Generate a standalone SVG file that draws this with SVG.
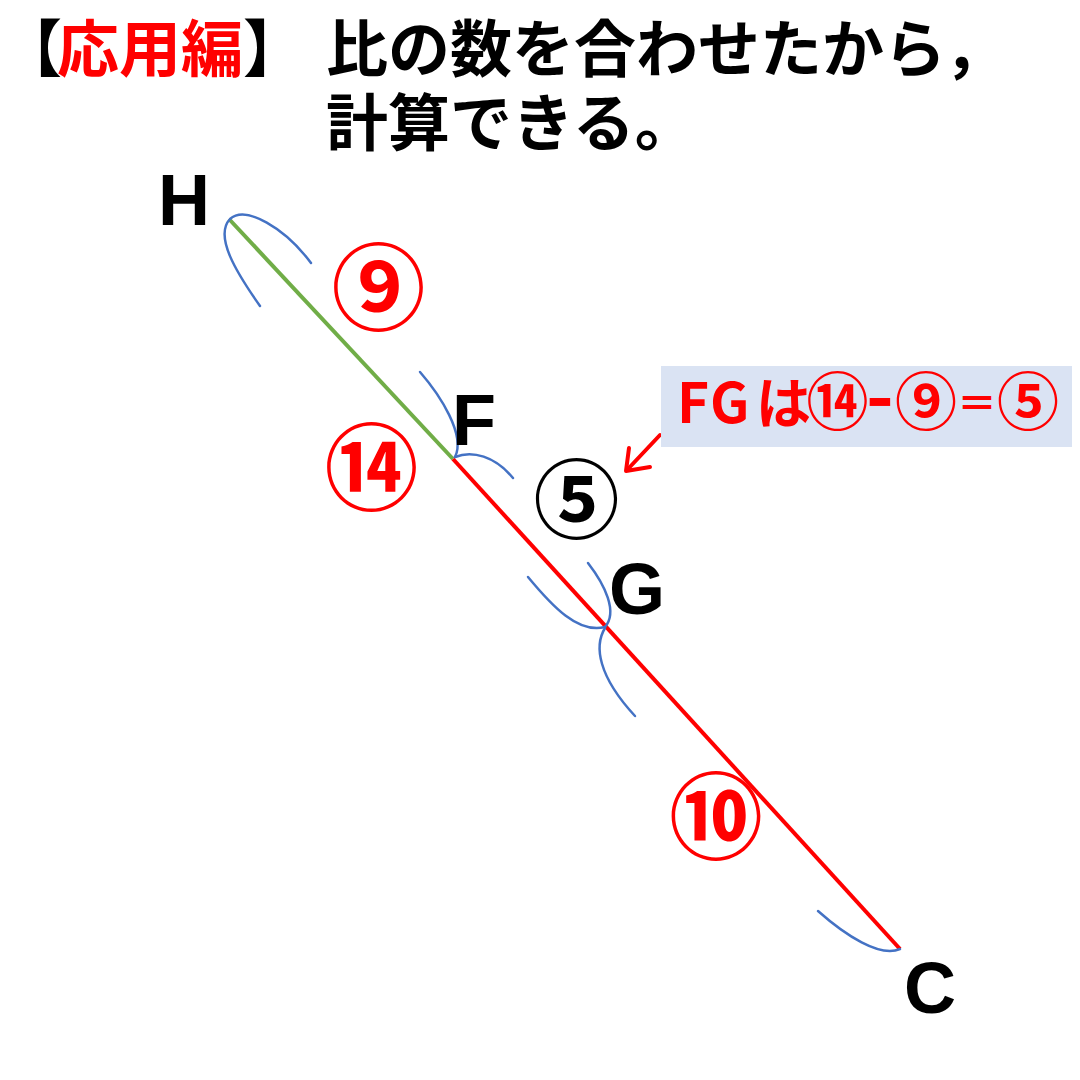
<svg xmlns="http://www.w3.org/2000/svg" width="1080" height="1080" viewBox="0 0 1080 1080">
  <style>
    .jp { font-family: "Noto Sans CJK JP", "Noto Sans CJK SC", sans-serif; font-weight: 700; }
    .lat { font-family: "Liberation Sans", Arial, sans-serif; font-weight: 700; font-size: 72px; fill: #000; }
    .red { fill: #FF0000; }
    .blk { fill: #000000; }
    .arc { fill: none; stroke: #4472C4; stroke-width: 2.5; stroke-linecap: round; }
    .seg-g { stroke: #70AD47; stroke-width: 4; fill: none; }
    .seg-r { stroke: #FF0000; stroke-width: 4; fill: none; }
    .circ-red { font-size: 94px; fill: #FF0000; text-anchor: middle; }
  </style>
  <rect width="1080" height="1080" fill="#FFFFFF"/>

  <g id="title">
    <text class="jp" font-size="62"><tspan class="blk" x="0" y="72">【</tspan><tspan class="red" x="57" y="72">応用編</tspan><tspan class="blk" x="243" y="72">】</tspan><tspan class="blk" x="326" y="72">比の数を合わせたから，</tspan><tspan class="blk" x="326" y="146">計算できる。</tspan></text>
  </g>

  <g id="connectors">
    <line class="seg-g" x1="229" y1="219" x2="453" y2="459"/>
    <line class="seg-r" x1="453" y1="459" x2="900" y2="949"/>
    <path class="arc" d="M260,306 C236,272 214,236 230,219 C246,205 285,228 311,263"/>
    <path class="arc" d="M420,372 C440,395 466,435 455,457"/>
    <path class="arc" d="M455,457 C472,450 495,456 513,478"/>
    <path class="arc" d="M528,577 C552,606 578,634 605,627"/>
    <path class="arc" d="M588,563 C605,585 618,612 605,627"/>
    <path class="arc" d="M605,628 C594,646 598,676 635,716"/>
    <path class="arc" d="M818,911 C845,935 880,958 900,949"/>
    <g id="arrow" stroke="#FF0000" stroke-width="4" fill="none" stroke-linecap="round" stroke-linejoin="round">
      <line x1="660" y1="435" x2="627" y2="470"/>
      <polyline points="629,448 626,471 650,467"/>
    </g>
  </g>

  <g id="node-H"><text class="lat" x="158" y="225">H</text></g>
  <g id="node-F"><text class="lat" x="452" y="445">F</text></g>
  <g id="node-G"><text class="lat" x="609" y="614">G</text></g>
  <g id="node-C"><text class="lat" x="904" y="1013">C</text></g>

  <g id="label-HF"><text class="jp circ-red" x="378.5" y="322.5">⑨</text></g>
  <g id="label-FC"><text class="jp circ-red" x="371.5" y="502.5">⑭</text></g>
  <g id="label-GC"><text class="jp circ-red" x="716" y="852">⑩</text></g>
  <g id="label-FG"><text class="jp blk" font-size="86" text-anchor="middle" x="576.5" y="532">⑤</text></g>

  <g id="note">
    <rect x="661" y="366" width="411" height="81" fill="#DAE3F3"/>
    <text class="jp red"><tspan font-size="55" x="677" y="423">F</tspan><tspan font-size="55" x="710" y="423">G</tspan><tspan font-size="55" x="756" y="423">は</tspan><tspan font-size="62" x="806.5" y="425">⑭</tspan><tspan font-size="75" x="866" y="423">-</tspan><tspan font-size="62" x="895" y="425">⑨</tspan><tspan font-size="40" x="957" y="418">＝</tspan><tspan font-size="62" x="997" y="425">⑤</tspan></text>
  </g>
</svg>
